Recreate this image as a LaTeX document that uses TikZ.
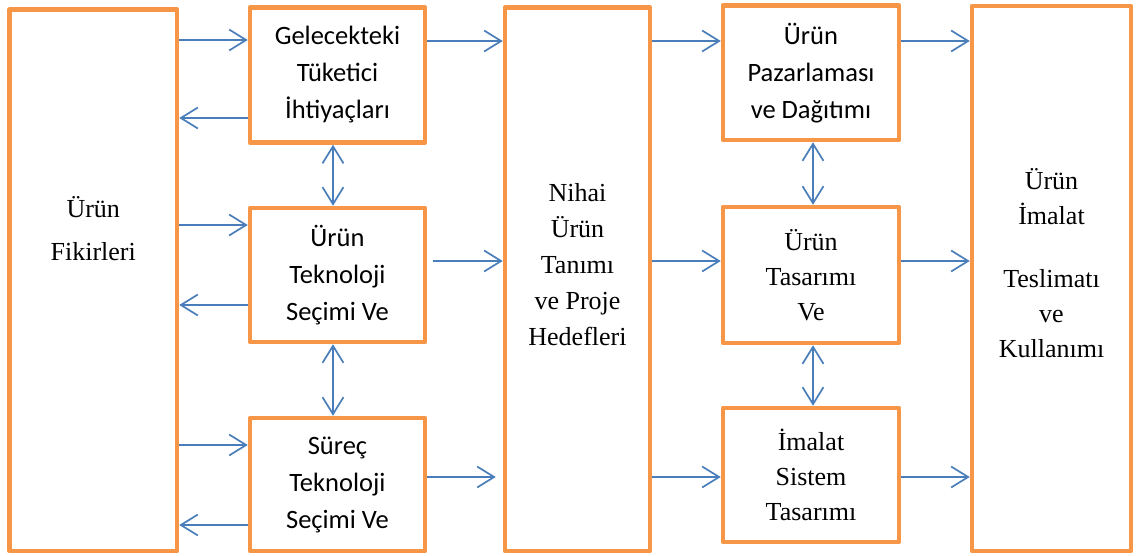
\documentclass[tikz,border=0pt]{standalone}
\usepackage{fontspec}
\setmainfont{Liberation Serif}
\newfontfamily\calibri{Carlito}
\usetikzlibrary{arrows.meta}
\definecolor{boxorange}{RGB}{247,150,70}
\definecolor{arrowblue}{RGB}{74,126,187}
\tikzset{
  frame/.style={draw=boxorange, line width=4.5pt, line join=round, fill=white,
                inner sep=0pt, align=center},
  serifbox/.style={font=\fontsize{26}{35}\selectfont},
  sansbox/.style={font=\calibri\fontsize{26.5}{37}\selectfont},
  barb/.tip={Straight Barb[length=17pt, width=21pt]},
  flow/.style={draw=arrowblue, line width=1.7pt, -barb},
  twoway/.style={draw=arrowblue, line width=1.7pt, barb-barb},
}
\begin{document}
\begin{tikzpicture}[x=1pt, y=-1pt]
  \useasboundingbox[fill=white] (0,0) rectangle (1136,555);

  % outer columns
  \node[frame, minimum width=167.5pt, minimum height=541.5pt] (A) at (93.25,280.25) {};
  \node[frame, minimum width=145pt, minimum height=543.5pt] (C) at (577.5,279.25) {};
  \node[frame, minimum width=159pt, minimum height=545pt] (E) at (1051.5,278.5) {};

  \node[align=center, font=\fontsize{26}{43}\selectfont] (Atext) at (A.center |- 0,228.5)
    {Ürün\\Fikirleri};
  \node[align=center, font=\fontsize{26}{36}\selectfont] (Ctext) at (C.center |- 0,264.5)
    {Nihai\\Ürün\\Tanımı\\ve Proje\\Hedefleri};
  \node[align=center, font=\fontsize{26}{35}\selectfont] (Etext) at (E.center |- 0,263.5)
    {Ürün\\İmalat\\[28pt]Teslimatı\\ve\\Kullanımı};

  % technology column
  \node[frame, sansbox, minimum width=175pt, minimum height=135pt] (B1) at (337.5,75)
    {Gelecekteki\\Tüketici\\İhtiyaçları};
  \node[frame, sansbox, minimum width=175pt, minimum height=134pt] (B2) at (337.5,275)
    {Ürün\\Teknoloji\\Seçimi Ve};
  \node[frame, sansbox, minimum width=175pt, minimum height=133pt] (B3) at (337.5,484.5)
    {Süreç\\Teknoloji\\Seçimi Ve};

  % design column
  \node[frame, sansbox, minimum width=176pt, minimum height=134.5pt] (D1) at (811,72.75)
    {Ürün\\Pazarlaması\\ve Dağıtımı};
  \node[frame, serifbox, minimum width=176pt, minimum height=136pt] (D2) at (811,275)
    {Ürün\\Tasarımı\\Ve};
  \node[frame, serifbox, minimum width=176pt, minimum height=134pt] (D3) at (811,475)
    {İmalat\\Sistem\\Tasarımı};

  % links between ideas and technology boxes
  \draw[flow] (A.east |- 0,40) -- (B1.west |- 0,40);
  \draw[flow] (B1.west |- 0,118) -- (A.east |- 0,118);
  \draw[flow] (A.east |- 0,225) -- (B2.west |- 0,225);
  \draw[flow] (B2.west |- 0,305) -- (A.east |- 0,305);
  \draw[flow] (A.east |- 0,445) -- (B3.west |- 0,445);
  \draw[flow] (B3.west |- 0,525) -- (A.east |- 0,525);

  % into the product definition
  \draw[flow] (B1.east |- 0,41) -- (C.west |- 0,41);
  \draw[flow, shorten <=6pt] (B2.east |- 0,261) -- (C.west |- 0,261);
  \draw[flow, shorten >=7pt] (B3.east |- 0,477) -- (C.west |- 0,477);

  % out of the product definition
  \draw[flow] (C.east |- 0,41) -- (D1.west |- 0,41);
  \draw[flow] (C.east |- 0,261) -- (D2.west |- 0,261);
  \draw[flow] (C.east |- 0,477) -- (D3.west |- 0,477);

  % into manufacturing and use
  \draw[flow] (D1.east |- 0,41) -- (E.west |- 0,41);
  \draw[flow] (D2.east |- 0,261) -- (E.west |- 0,261);
  \draw[flow] (D3.east |- 0,477) -- (E.west |- 0,477);

  % two-way links within columns
  \draw[twoway] (B1.south -| 333,0) -- (B2.north -| 333,0);
  \draw[twoway] (B2.south -| 333,0) -- (B3.north -| 333,0);
  \draw[twoway] (D1.south -| 813,0) -- (D2.north -| 813,0);
  \draw[twoway] (D2.south -| 813,0) -- (D3.north -| 813,0);
\end{tikzpicture}
\end{document}
